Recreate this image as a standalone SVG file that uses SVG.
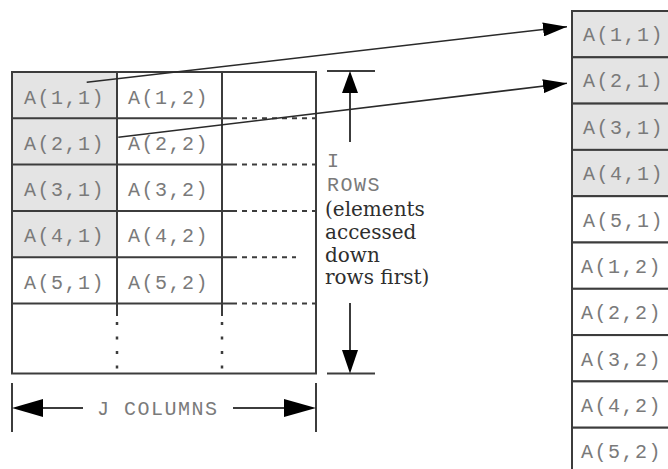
<svg xmlns="http://www.w3.org/2000/svg" width="668" height="469" viewBox="0 0 668 469">
<style>
.ln{stroke:#3c3c3c;stroke-width:2;fill:none}
.cell{stroke:#3c3c3c;stroke-width:2;fill:#ffffff}
.sh{fill:#e4e4e4}
.dash{stroke:#3c3c3c;stroke-width:2;stroke-dasharray:5 5;fill:none}
.dot{stroke:#3c3c3c;stroke-width:2.5;stroke-dasharray:3 11.5;fill:none}
.mono{font-family:"Liberation Mono","Courier New",monospace;font-size:20px;letter-spacing:1.5px;fill:#7a7a7a}
.serif{font-family:"DejaVu Serif","Liberation Serif",serif;font-size:20px;fill:#2e2e2e}
.conn{stroke:#2a2a2a;stroke-width:1.6;fill:none}
.ah{fill:#000}
</style>
<defs>
<marker id="arr" markerUnits="userSpaceOnUse" markerWidth="24" markerHeight="14" viewBox="0 0 24 14" refX="24" refY="7" orient="auto">
<path d="M0,0 L24,7 L0,14 z" fill="#000"/>
</marker>
</defs>
<rect width="668" height="469" fill="#fff"/>

<!-- left matrix -->
<g id="matrix">
<rect x="12" y="72" width="105" height="185.2" class="sh"/>
<rect x="12" y="72" width="304" height="301.5" class="ln"/>
<line x1="117" y1="72" x2="117" y2="316" class="ln"/>
<line x1="222" y1="72" x2="222" y2="316" class="ln"/>
<line x1="117" y1="322" x2="117" y2="373" class="dot"/>
<line x1="222" y1="322" x2="222" y2="373" class="dot"/>
<line x1="12" y1="118.3" x2="237" y2="118.3" class="ln"/>
<line x1="12" y1="164.6" x2="237" y2="164.6" class="ln"/>
<line x1="12" y1="210.9" x2="237" y2="210.9" class="ln"/>
<line x1="12" y1="257.2" x2="237" y2="257.2" class="ln"/>
<line x1="12" y1="303.5" x2="237" y2="303.5" class="ln"/>
<line x1="242" y1="118.3" x2="316" y2="118.3" class="dash"/>
<line x1="242" y1="164.6" x2="316" y2="164.6" class="dash"/>
<line x1="242" y1="210.9" x2="316" y2="210.9" class="dash"/>
<line x1="242" y1="257.2" x2="296" y2="257.2" class="dash"/>
<line x1="242" y1="303.5" x2="316" y2="303.5" class="dash"/>
</g>
<g id="m11"><text x="24" y="103.5" class="mono">A(1,1)</text></g>
<g id="m12"><text x="128" y="103.5" class="mono">A(1,2)</text></g>
<g id="m21"><text x="24" y="149.8" class="mono">A(2,1)</text></g>
<g id="m22"><text x="128" y="149.8" class="mono">A(2,2)</text></g>
<g id="m31"><text x="24" y="196.1" class="mono">A(3,1)</text></g>
<g id="m32"><text x="128" y="196.1" class="mono">A(3,2)</text></g>
<g id="m41"><text x="24" y="242.4" class="mono">A(4,1)</text></g>
<g id="m42"><text x="128" y="242.4" class="mono">A(4,2)</text></g>
<g id="m51"><text x="24" y="288.7" class="mono">A(5,1)</text></g>
<g id="m52"><text x="128" y="288.7" class="mono">A(5,2)</text></g>

<!-- dimension: I ROWS -->
<g id="rows-dim">
<line x1="327" y1="71" x2="375" y2="71" class="ln"/>
<line x1="327" y1="373.5" x2="375" y2="373.5" class="ln"/>
<line x1="350" y1="90" x2="350" y2="142" class="ln"/>
<path d="M350,71 L358,93 L342,93 z" class="ah"/>
<line x1="350" y1="303" x2="350" y2="352" class="ln"/>
<path d="M350,373.5 L358,350 L342,350 z" class="ah"/>
<text x="327" y="167" class="mono">I</text>
<text x="327" y="191" class="mono">ROWS</text>
<text x="325" y="215.5" class="serif">(elements</text>
<text x="325" y="238.5" class="serif">accessed</text>
<text x="325" y="261.5" class="serif">down</text>
<text x="325" y="284" class="serif">rows first)</text>
</g>

<!-- dimension: J COLUMNS -->
<g id="cols-dim">
<line x1="12" y1="383" x2="12" y2="432" class="ln"/>
<line x1="316" y1="383" x2="316" y2="432" class="ln"/>
<line x1="40" y1="408" x2="83" y2="408" class="ln"/>
<path d="M12,408 L43,399 L43,417 z" class="ah"/>
<line x1="233" y1="408" x2="287" y2="408" class="ln"/>
<path d="M316,408 L284,399 L284,417 z" class="ah"/>
<text x="97" y="415" class="mono">J COLUMNS</text>
</g>

<!-- right column (memory order) -->
<g id="r11"><rect x="572" y="11" width="120" height="46.3" class="cell sh"/><text x="583" y="41" class="mono">A(1,1)</text></g>
<g id="r21"><rect x="572" y="57.3" width="120" height="46.3" class="cell sh"/><text x="583" y="87.3" class="mono">A(2,1)</text></g>
<g id="r31"><rect x="572" y="103.6" width="120" height="46.3" class="cell sh"/><text x="583" y="133.6" class="mono">A(3,1)</text></g>
<g id="r41"><rect x="572" y="149.9" width="120" height="46.3" class="cell sh"/><text x="583" y="179.9" class="mono">A(4,1)</text></g>
<g id="r51"><rect x="572" y="196.2" width="120" height="46.3" class="cell"/><text x="583" y="226.5" class="mono">A(5,1)</text></g>
<g id="r12"><rect x="572" y="242.5" width="120" height="46.3" class="cell"/><text x="581" y="273" class="mono">A(1,2)</text></g>
<g id="r22"><rect x="572" y="288.8" width="120" height="46.3" class="cell"/><text x="581" y="319.3" class="mono">A(2,2)</text></g>
<g id="r32"><rect x="572" y="335.1" width="120" height="46.3" class="cell"/><text x="581" y="365.6" class="mono">A(3,2)</text></g>
<g id="r42"><rect x="572" y="381.4" width="120" height="46.3" class="cell"/><text x="581" y="411.9" class="mono">A(4,2)</text></g>
<g id="r52"><rect x="572" y="427.7" width="120" height="46.3" class="cell"/><text x="581" y="458.2" class="mono">A(5,2)</text></g>

<!-- connectors -->
<g id="connectors">
<line x1="86.7" y1="82.3" x2="567" y2="26.7" class="conn" marker-end="url(#arr)"/>
<line x1="118.3" y1="137.3" x2="567" y2="83.3" class="conn" marker-end="url(#arr)"/>
</g>
</svg>
